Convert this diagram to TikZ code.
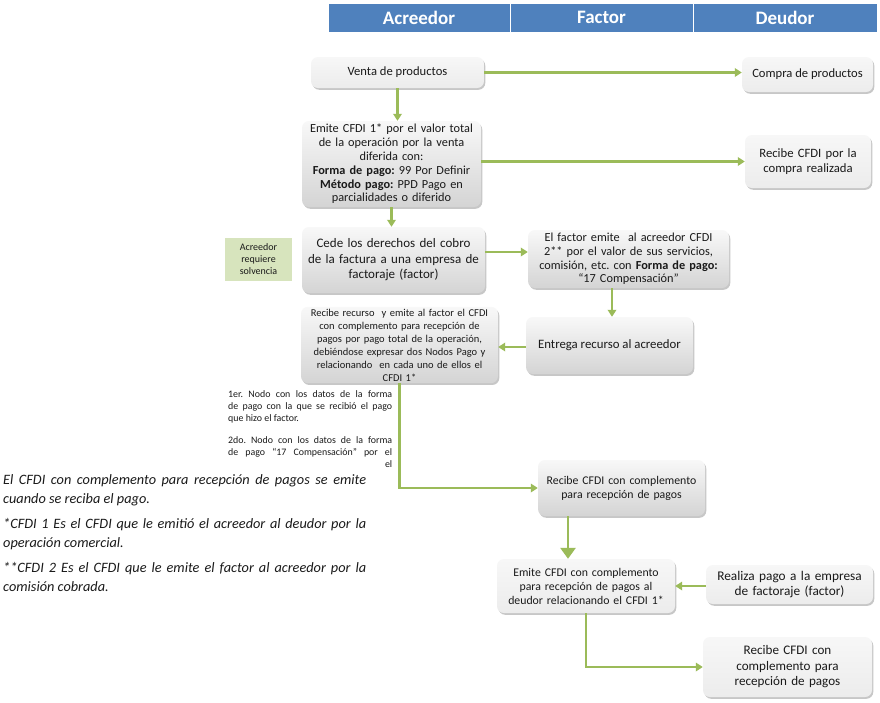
\documentclass[tikz,border=0pt]{standalone}
\usepackage{fontspec}
\setmainfont{Carlito}
\usetikzlibrary{shadows,arrows.meta,calc}
\definecolor{hdr}{HTML}{4F81BD}
\definecolor{grn}{HTML}{9BBB59}
\definecolor{solv}{HTML}{D7E4BD}
\definecolor{gtop}{HTML}{F8F8F8}
\definecolor{gbot}{HTML}{D4D4D4}
\definecolor{ltop}{HTML}{F7F7F7}
\definecolor{lbot}{HTML}{ECECEC}
\definecolor{txt}{HTML}{1A1A1A}
\newcommand{\fs}[2]{\fontsize{#1}{#2}\selectfont}
\tikzset{
  hcell/.style={fill=hdr, draw=white, line width=1pt, text=white, font=\bfseries\fs{19}{20}},
  gbox/.style={rounded corners=7pt, top color=gtop, bottom color=gbot, draw=none, align=center,
     text=txt, inner sep=2pt,
     drop shadow={shadow xshift=1.3pt, shadow yshift=-1.8pt, fill=black, opacity=0.22}},
  lbox/.style={gbox, top color=ltop, bottom color=lbot},
  conn/.style={draw=grn, line width=2.8pt, -{Triangle[length=7pt,width=8.5pt]}},
  bigconn/.style={draw=grn, line width=2.8pt, -{Triangle[length=11pt,width=15pt]}},
}
\begin{document}
\frenchspacing
\begin{tikzpicture}[x=1pt,y=-1pt]
\useasboundingbox (0,0) rectangle (880,702);
\fill[white] (0,0) rectangle (880,702);
% header
\node[hcell, minimum width=182pt, minimum height=29pt] (hA) at (419,17.5) {Acreedor};
\node[hcell, minimum width=183pt, minimum height=29pt] (hF) at (601.5,17.5) {Factor};
\node[hcell, minimum width=184pt, minimum height=29pt] (hD) at (785,17.5) {Deudor};

% boxes
\node[lbox, minimum width=173pt, minimum height=31pt, font=\fs{12.6}{14}] (venta) at (397.5,72.5) {Venta de productos};
\node[lbox, minimum width=131pt, minimum height=35pt, font=\fs{12.6}{14}] (compra) at (807.5,74.5) {Compra de productos};
\node[gbox, minimum width=179pt, minimum height=86pt, text width=172pt, font=\fs{12.3}{13.8}] (emite1) at (391.5,164)
 {Emite CFDI 1* por el valor total\\de la operación por la venta\\diferida con:\\\textbf{Forma de pago:} 99 Por Definir\\\textbf{Método pago:} PPD Pago en\\parcialidades o diferido};
\node[lbox, minimum width=126pt, minimum height=53pt, text width=120pt, font=\fs{12.7}{14.5}] (recibecompra) at (808,161.5)
 {Recibe CFDI por la\\compra realizada};
\node[gbox, minimum width=183pt, minimum height=66pt, text width=178pt, font=\fs{13}{15.5}] (cede) at (393.5,260)
 {Cede los derechos del cobro\\de la factura a una empresa de\\factoraje (factor)};
\node[fill=solv, minimum width=67pt, minimum height=43pt, text width=62pt, align=center, inner sep=1pt,
  text=txt, font=\fs{10}{12}] (solvencia) at (258.5,259.5) {Acreedor\\requiere\\solvencia};
\node[gbox, minimum width=201pt, minimum height=58pt, text width=196pt, font=\fs{12.3}{13.8}] (factoremite) at (628.5,259)
 {El factor emite\ \ al acreedor CFDI\\2** por el valor de sus servicios,\\comisión, etc. con \textbf{Forma de pago:}\\“17 Compensación”};
\node[gbox, minimum width=197pt, minimum height=74pt, text width=192pt, font=\fs{10.5}{13}] (recurso) at (399.5,345)
 {Recibe recurso\ \ y emite al factor el CFDI\\con complemento para recepción de\\pagos por pago total de la operación,\\debiéndose expresar dos Nodos Pago y\\relacionando\ \ en cada uno de ellos el\\CFDI 1*};
\node[gbox, minimum width=167pt, minimum height=57pt, font=\fs{12.8}{14}] (entrega) at (609.5,345.5)
 {Entrega recurso al acreedor};
\node[gbox, minimum width=167pt, minimum height=56pt, text width=160pt, font=\fs{11.8}{14}] (recibecomp) at (621.5,488)
 {Recibe CFDI con complemento\\para recepción de pagos};
\node[lbox, minimum width=178pt, minimum height=54pt, text width=172pt, font=\fs{11.8}{14}] (emitecomp) at (586,586)
 {Emite CFDI con complemento\\para recepción de pagos al\\deudor relacionando el CFDI 1*};
\node[lbox, minimum width=167pt, minimum height=39pt, text width=160pt, font=\fs{13.3}{15}] (realiza) at (789.5,584.5)
 {Realiza pago a la empresa\\de factoraje (factor)};
\node[lbox, minimum width=169pt, minimum height=60pt, text width=162pt, font=\fs{13.1}{15.5}] (recibedeudor) at (787.5,667)
 {Recibe CFDI con\\complemento para\\recepción de pagos};

% explanatory texts
\node[anchor=north west, text width=164pt, align=justify, inner sep=0pt, text=txt, font=\fs{9.9}{12}] (nodos) at (228,390)
 {1er. Nodo con los datos de la forma\linebreak de pago con la que se recibió el pago\linebreak que hizo el factor.\par\vspace{10pt}
  2do. Nodo con los datos de la forma\linebreak de pago “17 Compensación” por el\linebreak\mbox{}\hfill el};
\node[anchor=north west, text width=363pt, align=justify, inner sep=0pt, text=txt, font=\itshape\fs{14.3}{19}] (notas) at (3,474)
 {El CFDI con complemento para recepción de pagos se emite\linebreak cuando se reciba el pago.\par\vspace{6pt}
  *CFDI 1 Es el CFDI que le emitió el acreedor al deudor por la\linebreak operación comercial.\par\vspace{6pt}
  **CFDI 2 Es el CFDI que le emite el factor al acreedor por la\linebreak comisión cobrada.};

% connectors
\draw[conn] (venta.east) -- (venta.east -| compra.west);
\draw[conn] (venta.south) -- (venta.south |- emite1.north);
\draw[conn] (emite1.east |- recibecompra.west) -- (recibecompra.west);
\draw[conn] (emite1.south) -- (emite1.south |- cede.north);
\draw[conn] ([yshift=8pt]cede.east) -- ([yshift=8pt]cede.east -| factoremite.west);
\draw[conn] ([xshift=2.5pt]entrega.north |- factoremite.south) -- ([xshift=2.5pt]entrega.north);
\draw[conn] ([yshift=-1.5pt]entrega.west) -- ([yshift=-1.5pt]entrega.west -| recurso.east);
\draw[conn] (recurso.south) |- (recibecomp.west);
\draw[bigconn] ([xshift=-18pt]emitecomp.north |- recibecomp.south) -- ([xshift=-18pt]emitecomp.north);
\draw[conn] ([yshift=-1.5pt]realiza.west) -- ([yshift=-1.5pt]realiza.west -| emitecomp.east);
\draw[conn] (emitecomp.south) |- (recibedeudor.west);
\end{tikzpicture}
\end{document}
